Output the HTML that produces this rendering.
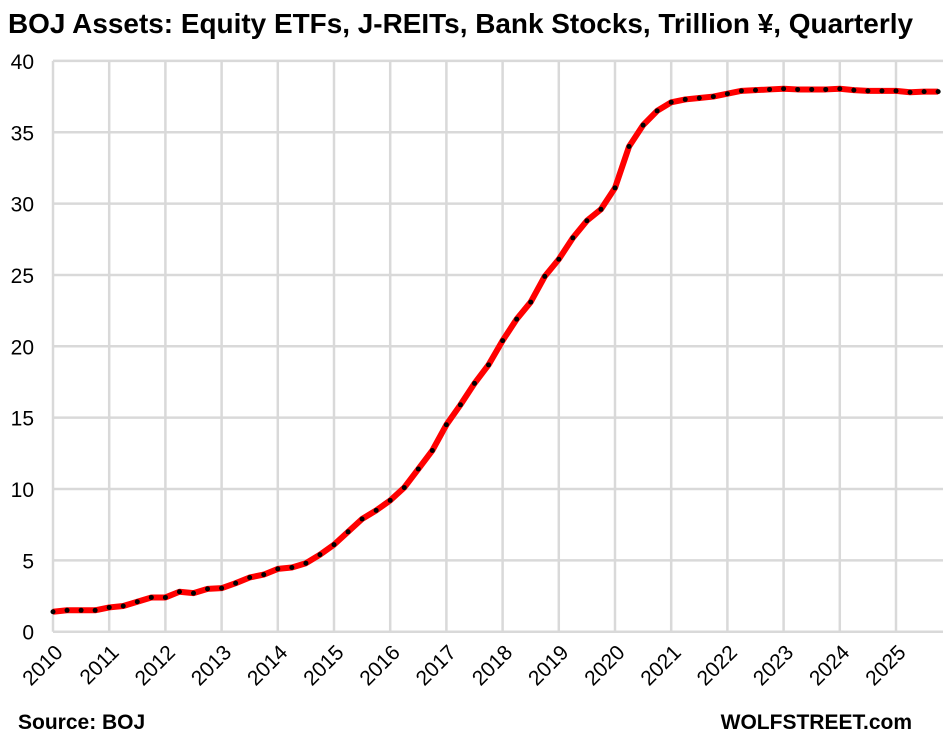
<!DOCTYPE html>
<html><head><meta charset="utf-8"><style>
body{margin:0;background:#fff;}
svg{display:block;font-family:"Liberation Sans",sans-serif;}
</style></head><body>
<svg width="951" height="749" xmlns="http://www.w3.org/2000/svg">
<rect width="951" height="749" fill="#fff"/>
<text x="8" y="33" font-size="28" font-weight="bold" fill="#000" textLength="905" lengthAdjust="spacingAndGlyphs">BOJ Assets: Equity ETFs, J-REITs, Bank Stocks, Trillion ¥, Quarterly</text>
<g id="grid" stroke="#d9d9d9" stroke-width="2.5"></g>
<g id="ylab" font-size="21" fill="#000" text-anchor="end"></g>
<g id="xlab" font-size="21" fill="#000"></g>
<polyline id="line" fill="none" stroke="#ff0000" stroke-width="6" stroke-linejoin="round"/>
<g id="dots" fill="#000"></g>
<text x="18" y="729" font-size="21" font-weight="bold" fill="#000">Source: BOJ</text>
<text x="912" y="729" font-size="21" font-weight="bold" fill="#000" text-anchor="end">WOLFSTREET.com</text>
<script>
const NS="http://www.w3.org/2000/svg";
const X0=53,DX=56.2,Y0=631.7,DY=14.27,XR=943;
const g=document.getElementById('grid'),yl=document.getElementById('ylab'),xl=document.getElementById('xlab');
function el(t,a,p,txt){const e=document.createElementNS(NS,t);for(const k in a)e.setAttribute(k,a[k]);if(txt)e.textContent=txt;p.appendChild(e);return e;}
for(let v=0;v<=40;v+=5){const y=Y0-v*DY;el('line',{x1:X0,x2:XR,y1:y,y2:y},g);el('text',{x:34,y:y+8},yl,String(v));}
for(let i=0;i<=15;i++){const x=X0+i*DX;el('line',{x1:x,x2:x,y1:Y0-40*DY,y2:Y0},g);
el('text',{transform:`translate(${x+11},${Y0+22}) rotate(-45)`,'text-anchor':'end'},xl,String(2010+i));}
const d=[1.4,1.5,1.5,1.5,1.7,1.8,2.1,2.4,2.4,2.8,2.7,3.0,3.05,3.4,3.8,4.0,4.4,4.5,4.8,5.4,6.1,7.0,7.9,8.5,9.2,10.1,11.4,12.7,14.5,15.9,17.4,18.7,20.4,21.9,23.1,24.9,26.1,27.6,28.8,29.6,31.1,34.0,35.5,36.5,37.1,37.3,37.4,37.5,37.7,37.9,37.95,38.0,38.05,38.0,38.0,38.0,38.05,37.95,37.9,37.9,37.9,37.8,37.85,37.85];
const pts=d.map((v,i)=>[X0+i*DX/4,Y0-v*DY]);
document.getElementById('line').setAttribute('points',pts.map(p=>p.join(',')).join(' '));
const dots=document.getElementById('dots');pts.forEach(p=>el('circle',{cx:p[0],cy:p[1],r:2.5},dots));
</script>
</svg>
</body></html>
